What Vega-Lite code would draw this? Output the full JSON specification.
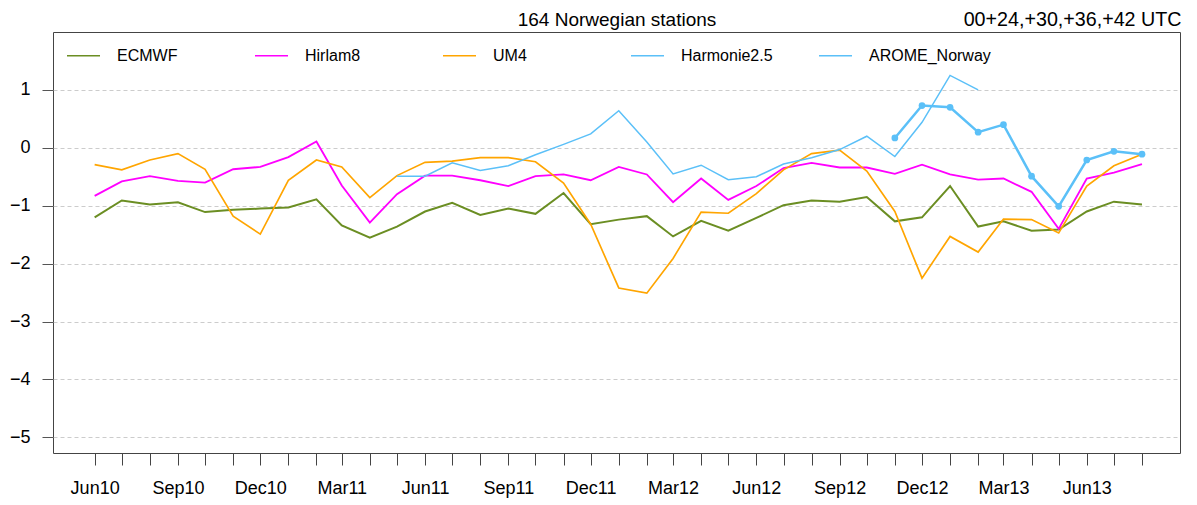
{
 "$schema": "https://vega.github.io/schema/vega-lite/v6.json",
 "width": 1127, "height": 421,
 "autosize": {"type": "none"},
 "padding": {"left": 53, "top": 32, "right": 17, "bottom": 52},
 "background": "white",
 "config": {"view": {"stroke": "#444444", "strokeWidth": 1}, "font": "Liberation Sans"},
 "data": {"values": [
  {"model":"ECMWF","date":"2010-06-01","bias":-1.20},{"model":"ECMWF","date":"2010-07-01","bias":-0.91},{"model":"ECMWF","date":"2010-08-01","bias":-0.98},{"model":"ECMWF","date":"2010-09-01","bias":-0.94},{"model":"ECMWF","date":"2010-10-01","bias":-1.11},{"model":"ECMWF","date":"2010-11-01","bias":-1.07},{"model":"ECMWF","date":"2010-12-01","bias":-1.05},{"model":"ECMWF","date":"2011-01-01","bias":-1.03},{"model":"ECMWF","date":"2011-02-01","bias":-0.89},{"model":"ECMWF","date":"2011-03-01","bias":-1.34},{"model":"ECMWF","date":"2011-04-01","bias":-1.55},{"model":"ECMWF","date":"2011-05-01","bias":-1.36},{"model":"ECMWF","date":"2011-06-01","bias":-1.10},{"model":"ECMWF","date":"2011-07-01","bias":-0.95},{"model":"ECMWF","date":"2011-08-01","bias":-1.16},{"model":"ECMWF","date":"2011-09-01","bias":-1.05},{"model":"ECMWF","date":"2011-10-01","bias":-1.14},{"model":"ECMWF","date":"2011-11-01","bias":-0.78},{"model":"ECMWF","date":"2011-12-01","bias":-1.32},{"model":"ECMWF","date":"2012-01-01","bias":-1.24},{"model":"ECMWF","date":"2012-02-01","bias":-1.18},{"model":"ECMWF","date":"2012-03-01","bias":-1.53},{"model":"ECMWF","date":"2012-04-01","bias":-1.26},{"model":"ECMWF","date":"2012-05-01","bias":-1.43},{"model":"ECMWF","date":"2012-06-01","bias":-1.21},{"model":"ECMWF","date":"2012-07-01","bias":-0.99},{"model":"ECMWF","date":"2012-08-01","bias":-0.91},{"model":"ECMWF","date":"2012-09-01","bias":-0.93},{"model":"ECMWF","date":"2012-10-01","bias":-0.85},{"model":"ECMWF","date":"2012-11-01","bias":-1.27},{"model":"ECMWF","date":"2012-12-01","bias":-1.20},{"model":"ECMWF","date":"2013-01-01","bias":-0.66},{"model":"ECMWF","date":"2013-02-01","bias":-1.36},{"model":"ECMWF","date":"2013-03-01","bias":-1.27},{"model":"ECMWF","date":"2013-04-01","bias":-1.43},{"model":"ECMWF","date":"2013-05-01","bias":-1.41},{"model":"ECMWF","date":"2013-06-01","bias":-1.10},{"model":"ECMWF","date":"2013-07-01","bias":-0.93},{"model":"ECMWF","date":"2013-08-01","bias":-0.98},
  {"model":"Hirlam8","date":"2010-06-01","bias":-0.83},{"model":"Hirlam8","date":"2010-07-01","bias":-0.58},{"model":"Hirlam8","date":"2010-08-01","bias":-0.49},{"model":"Hirlam8","date":"2010-09-01","bias":-0.57},{"model":"Hirlam8","date":"2010-10-01","bias":-0.60},{"model":"Hirlam8","date":"2010-11-01","bias":-0.37},{"model":"Hirlam8","date":"2010-12-01","bias":-0.33},{"model":"Hirlam8","date":"2011-01-01","bias":-0.16},{"model":"Hirlam8","date":"2011-02-01","bias":0.11},{"model":"Hirlam8","date":"2011-03-01","bias":-0.65},{"model":"Hirlam8","date":"2011-04-01","bias":-1.29},{"model":"Hirlam8","date":"2011-05-01","bias":-0.80},{"model":"Hirlam8","date":"2011-06-01","bias":-0.48},{"model":"Hirlam8","date":"2011-07-01","bias":-0.48},{"model":"Hirlam8","date":"2011-08-01","bias":-0.56},{"model":"Hirlam8","date":"2011-09-01","bias":-0.66},{"model":"Hirlam8","date":"2011-10-01","bias":-0.49},{"model":"Hirlam8","date":"2011-11-01","bias":-0.46},{"model":"Hirlam8","date":"2011-12-01","bias":-0.56},{"model":"Hirlam8","date":"2012-01-01","bias":-0.33},{"model":"Hirlam8","date":"2012-02-01","bias":-0.46},{"model":"Hirlam8","date":"2012-03-01","bias":-0.94},{"model":"Hirlam8","date":"2012-04-01","bias":-0.53},{"model":"Hirlam8","date":"2012-05-01","bias":-0.90},{"model":"Hirlam8","date":"2012-06-01","bias":-0.66},{"model":"Hirlam8","date":"2012-07-01","bias":-0.35},{"model":"Hirlam8","date":"2012-08-01","bias":-0.26},{"model":"Hirlam8","date":"2012-09-01","bias":-0.34},{"model":"Hirlam8","date":"2012-10-01","bias":-0.34},{"model":"Hirlam8","date":"2012-11-01","bias":-0.45},{"model":"Hirlam8","date":"2012-12-01","bias":-0.29},{"model":"Hirlam8","date":"2013-01-01","bias":-0.46},{"model":"Hirlam8","date":"2013-02-01","bias":-0.55},{"model":"Hirlam8","date":"2013-03-01","bias":-0.53},{"model":"Hirlam8","date":"2013-04-01","bias":-0.76},{"model":"Hirlam8","date":"2013-05-01","bias":-1.40},{"model":"Hirlam8","date":"2013-06-01","bias":-0.53},{"model":"Hirlam8","date":"2013-07-01","bias":-0.43},{"model":"Hirlam8","date":"2013-08-01","bias":-0.28},
  {"model":"UM4","date":"2010-06-01","bias":-0.29},{"model":"UM4","date":"2010-07-01","bias":-0.38},{"model":"UM4","date":"2010-08-01","bias":-0.21},{"model":"UM4","date":"2010-09-01","bias":-0.10},{"model":"UM4","date":"2010-10-01","bias":-0.37},{"model":"UM4","date":"2010-11-01","bias":-1.18},{"model":"UM4","date":"2010-12-01","bias":-1.49},{"model":"UM4","date":"2011-01-01","bias":-0.56},{"model":"UM4","date":"2011-02-01","bias":-0.21},{"model":"UM4","date":"2011-03-01","bias":-0.33},{"model":"UM4","date":"2011-04-01","bias":-0.86},{"model":"UM4","date":"2011-05-01","bias":-0.48},{"model":"UM4","date":"2011-06-01","bias":-0.25},{"model":"UM4","date":"2011-07-01","bias":-0.23},{"model":"UM4","date":"2011-08-01","bias":-0.17},{"model":"UM4","date":"2011-09-01","bias":-0.17},{"model":"UM4","date":"2011-10-01","bias":-0.24},{"model":"UM4","date":"2011-11-01","bias":-0.61},{"model":"UM4","date":"2011-12-01","bias":-1.32},{"model":"UM4","date":"2012-01-01","bias":-2.42},{"model":"UM4","date":"2012-02-01","bias":-2.51},{"model":"UM4","date":"2012-03-01","bias":-1.91},{"model":"UM4","date":"2012-04-01","bias":-1.11},{"model":"UM4","date":"2012-05-01","bias":-1.13},{"model":"UM4","date":"2012-06-01","bias":-0.79},{"model":"UM4","date":"2012-07-01","bias":-0.38},{"model":"UM4","date":"2012-08-01","bias":-0.10},{"model":"UM4","date":"2012-09-01","bias":-0.04},{"model":"UM4","date":"2012-10-01","bias":-0.40},{"model":"UM4","date":"2012-11-01","bias":-1.10},{"model":"UM4","date":"2012-12-01","bias":-2.25},{"model":"UM4","date":"2013-01-01","bias":-1.53},{"model":"UM4","date":"2013-02-01","bias":-1.80},{"model":"UM4","date":"2013-03-01","bias":-1.23},{"model":"UM4","date":"2013-04-01","bias":-1.24},{"model":"UM4","date":"2013-05-01","bias":-1.47},{"model":"UM4","date":"2013-06-01","bias":-0.66},{"model":"UM4","date":"2013-07-01","bias":-0.31},{"model":"UM4","date":"2013-08-01","bias":-0.11},
  {"model":"Harmonie2.5","date":"2011-05-01","bias":-0.49},{"model":"Harmonie2.5","date":"2011-06-01","bias":-0.49},{"model":"Harmonie2.5","date":"2011-07-01","bias":-0.26},{"model":"Harmonie2.5","date":"2011-08-01","bias":-0.39},{"model":"Harmonie2.5","date":"2011-09-01","bias":-0.31},{"model":"Harmonie2.5","date":"2011-10-01","bias":-0.12},{"model":"Harmonie2.5","date":"2011-11-01","bias":0.06},{"model":"Harmonie2.5","date":"2011-12-01","bias":0.24},{"model":"Harmonie2.5","date":"2012-01-01","bias":0.64},{"model":"Harmonie2.5","date":"2012-02-01","bias":0.10},{"model":"Harmonie2.5","date":"2012-03-01","bias":-0.45},{"model":"Harmonie2.5","date":"2012-04-01","bias":-0.30},{"model":"Harmonie2.5","date":"2012-05-01","bias":-0.55},{"model":"Harmonie2.5","date":"2012-06-01","bias":-0.50},{"model":"Harmonie2.5","date":"2012-07-01","bias":-0.28},{"model":"Harmonie2.5","date":"2012-08-01","bias":-0.17},{"model":"Harmonie2.5","date":"2012-09-01","bias":-0.03},{"model":"Harmonie2.5","date":"2012-10-01","bias":0.20},{"model":"Harmonie2.5","date":"2012-11-01","bias":-0.15},{"model":"Harmonie2.5","date":"2012-12-01","bias":0.44},{"model":"Harmonie2.5","date":"2013-01-01","bias":1.25},{"model":"Harmonie2.5","date":"2013-02-01","bias":1.00},
  {"model":"AROME_Norway","date":"2012-11-01","bias":0.17},{"model":"AROME_Norway","date":"2012-12-01","bias":0.73},{"model":"AROME_Norway","date":"2013-01-01","bias":0.70},{"model":"AROME_Norway","date":"2013-02-01","bias":0.27},{"model":"AROME_Norway","date":"2013-03-01","bias":0.40},{"model":"AROME_Norway","date":"2013-04-01","bias":-0.49},{"model":"AROME_Norway","date":"2013-05-01","bias":-1.01},{"model":"AROME_Norway","date":"2013-06-01","bias":-0.21},{"model":"AROME_Norway","date":"2013-07-01","bias":-0.06},{"model":"AROME_Norway","date":"2013-08-01","bias":-0.11}
 ]},
 "encoding": {
  "x": {"field": "date", "type": "temporal",
   "scale": {"type": "utc", "domain": [{"year": 2010, "month": 4, "date": 16, "utc": true}, {"year": 2013, "month": 9, "date": 12, "utc": true}]},
   "axis": {"title": null,
    "values": [
     {"year":2010,"month":6,"date":1,"utc":true},{"year":2010,"month":7,"date":1,"utc":true},{"year":2010,"month":8,"date":1,"utc":true},{"year":2010,"month":9,"date":1,"utc":true},{"year":2010,"month":10,"date":1,"utc":true},{"year":2010,"month":11,"date":1,"utc":true},{"year":2010,"month":12,"date":1,"utc":true},
     {"year":2011,"month":1,"date":1,"utc":true},{"year":2011,"month":2,"date":1,"utc":true},{"year":2011,"month":3,"date":1,"utc":true},{"year":2011,"month":4,"date":1,"utc":true},{"year":2011,"month":5,"date":1,"utc":true},{"year":2011,"month":6,"date":1,"utc":true},{"year":2011,"month":7,"date":1,"utc":true},{"year":2011,"month":8,"date":1,"utc":true},{"year":2011,"month":9,"date":1,"utc":true},{"year":2011,"month":10,"date":1,"utc":true},{"year":2011,"month":11,"date":1,"utc":true},{"year":2011,"month":12,"date":1,"utc":true},
     {"year":2012,"month":1,"date":1,"utc":true},{"year":2012,"month":2,"date":1,"utc":true},{"year":2012,"month":3,"date":1,"utc":true},{"year":2012,"month":4,"date":1,"utc":true},{"year":2012,"month":5,"date":1,"utc":true},{"year":2012,"month":6,"date":1,"utc":true},{"year":2012,"month":7,"date":1,"utc":true},{"year":2012,"month":8,"date":1,"utc":true},{"year":2012,"month":9,"date":1,"utc":true},{"year":2012,"month":10,"date":1,"utc":true},{"year":2012,"month":11,"date":1,"utc":true},{"year":2012,"month":12,"date":1,"utc":true},
     {"year":2013,"month":1,"date":1,"utc":true},{"year":2013,"month":2,"date":1,"utc":true},{"year":2013,"month":3,"date":1,"utc":true},{"year":2013,"month":4,"date":1,"utc":true},{"year":2013,"month":5,"date":1,"utc":true},{"year":2013,"month":6,"date":1,"utc":true},{"year":2013,"month":7,"date":1,"utc":true},{"year":2013,"month":8,"date":1,"utc":true}
    ],
    "labelExpr": "utcmonth(datum.value) % 3 == 2 ? utcFormat(datum.value, '%b%y') : ''", "domain": false, "grid": false, "tickSize": 12, "tickColor": "#444444", "labelFontSize": 18, "labelPadding": 14, "labelColor": "black", "labelFont": "Liberation Sans", "labelOverlap": false, "labelFlush": false}},
  "y": {"field": "bias", "type": "quantitative",
   "scale": {"domain": [-5.27, 2.0], "nice": false, "zero": false},
   "axis": {"values": [-5, -4, -3, -2, -1, 0, 1], "grid": true, "gridDash": [4, 3], "gridColor": "#cccccc", "domain": false, "tickSize": 11, "tickColor": "#555555", "labelFontSize": 18, "labelPadding": 12, "labelColor": "black", "labelFont": "Liberation Sans",
    "title": "00+24,+30,+36,+42 UTC", "titleAngle": 0, "titleX": 1128, "titleY": -7, "titleAlign": "right", "titleBaseline": "alphabetic", "titleFontSize": 19.7, "titleFontWeight": "normal", "titleColor": "black", "titleFont": "Liberation Sans"}},
  "color": {"field": "model", "type": "nominal",
   "scale": {"domain": ["ECMWF", "Hirlam8", "UM4", "Harmonie2.5", "AROME_Norway"], "range": ["#6B8E23", "#FF00FF", "#FFA500", "#5BC0F8", "#5BC0F8"]},
   "legend": {"orient": "none", "legendX": 13, "legendY": 6, "direction": "horizontal", "columns": 5, "title": null, "symbolType": "stroke", "symbolSize": 1089, "symbolStrokeWidth": 1.5, "labelFontSize": 16, "labelFont": "Liberation Sans", "labelOffset": 16, "columnPadding": 13, "gridAlign": "all", "labelColor": "black", "padding": 0, "labelLimit": 300}}
 },
 "layer": [
  {"transform": [{"filter": "datum.model != 'AROME_Norway'"}],
   "mark": {"type": "line"},
   "encoding": {"strokeWidth": {"field": "model", "type": "nominal", "scale": {"domain": ["ECMWF", "Hirlam8", "UM4", "Harmonie2.5"], "range": [2, 1.5, 1.5, 1.8]}, "legend": null}}},
  {"transform": [{"filter": "datum.model == 'AROME_Norway'"}],
   "mark": {"type": "line", "strokeWidth": 2.5, "point": {"filled": true, "size": 45}},
   "encoding": {"y": {"field": "bias", "type": "quantitative",
    "axis": {"orient": "right", "labels": false, "ticks": false, "domain": false, "grid": false,
     "title": "164 Norwegian stations", "titleAngle": 0, "titleX": -563.5, "titleY": -7, "titleAlign": "center", "titleBaseline": "alphabetic", "titleFontSize": 19, "titleFontWeight": "normal", "titleColor": "black", "titleFont": "Liberation Sans"}}}}
 ],
 "resolve": {"axis": {"y": "independent"}}
}
